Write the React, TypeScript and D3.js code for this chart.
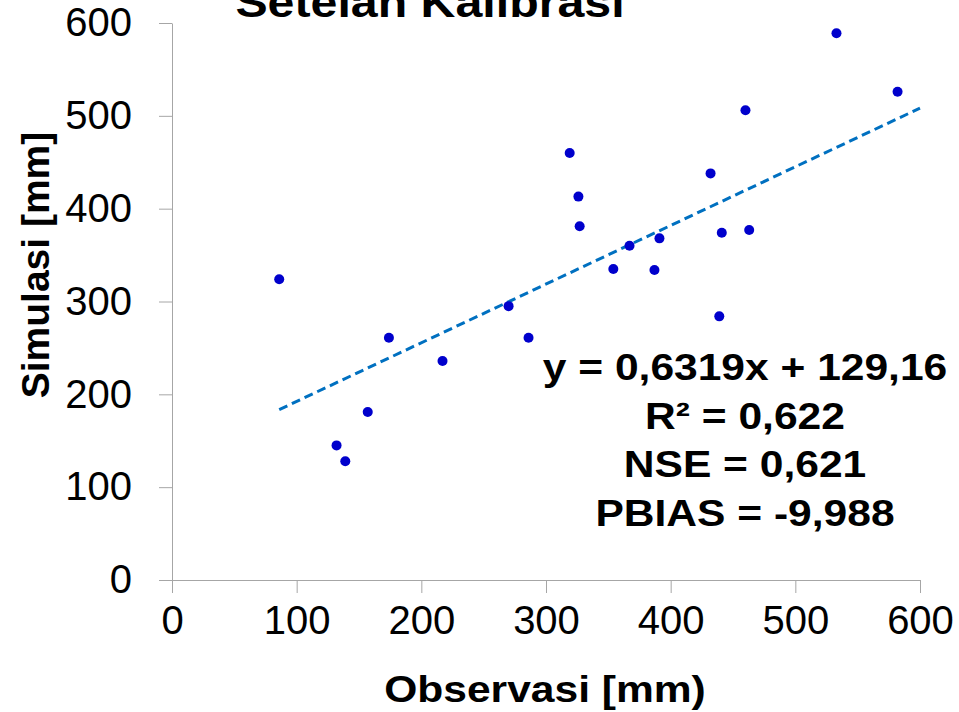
import React, { useEffect, useRef } from 'react';
import * as d3 from 'd3';

// Observed vs simulated (mm)
const observasi = [86, 132, 139, 157, 174, 217, 270, 286, 319, 326, 327, 354, 367, 387, 391, 432, 439, 441, 460, 463, 533, 582];
const simulasi = [324, 145, 128, 181, 261, 236, 295, 261, 460, 413, 381, 335, 360, 334, 368, 438, 284, 374, 506, 377, 589, 526];

const tickValues = [0, 100, 200, 300, 400, 500, 600];

// linear trend from the chart's label
const slope = 0.6319;
const intercept = 129.16;
const trendEnd = 600;

const statLines = ['y = 0,6319x + 129,16', 'R² = 0,622', 'NSE = 0,621', 'PBIAS = -9,988'];

const App = () => {
  const svgRef = useRef<SVGSVGElement>(null);

  useEffect(() => {
    const svg = d3.select(svgRef.current);
    svg.selectAll('*').remove();

    const font = 'Liberation Sans, Arial, sans-serif';
    const axisColor = '#a6a6a6';
    const stretch = 1.15; // bold text in the source is a little wide

    const x = d3.scaleLinear().domain([0, 600]).range([172, 920]);
    const y = d3.scaleLinear().domain([0, 600]).range([580, 23]);

    // title, clipped at the top like the source
    svg.append('text')
      .attr('transform', `translate(430,17) scale(${stretch},1)`)
      .attr('text-anchor', 'middle')
      .style('font-family', font)
      .style('font-weight', 'bold')
      .style('font-size', '42px')
      .text('Setelah Kalibrasi');

    // x axis
    const xAxis = svg.append('g')
      .attr('transform', `translate(0,${y(0)})`)
      .call(d3.axisBottom(x).tickValues(tickValues).tickSize(13).tickSizeOuter(0).tickPadding(13));
    xAxis.select('.domain').attr('stroke', axisColor);
    xAxis.selectAll('line').attr('stroke', axisColor);
    xAxis.selectAll('text')
      .style('font-family', font)
      .style('font-size', '40px')
      .attr('fill', '#000');

    // y axis
    const yAxis = svg.append('g')
      .attr('transform', `translate(${x(0)},0)`)
      .call(d3.axisLeft(y).tickValues(tickValues).tickSize(13).tickSizeOuter(0).tickPadding(27));
    yAxis.select('.domain').attr('stroke', axisColor);
    yAxis.selectAll('line').attr('stroke', axisColor);
    yAxis.selectAll('text')
      .style('font-family', font)
      .style('font-size', '40px')
      .attr('fill', '#000');

    // axis titles
    svg.append('text')
      .attr('transform', `translate(545,702) scale(${stretch},1)`)
      .attr('text-anchor', 'middle')
      .style('font-family', font)
      .style('font-weight', 'bold')
      .style('font-size', '37px')
      .text('Observasi [mm)');

    svg.append('text')
      .attr('transform', 'translate(49,265) rotate(-90)')
      .attr('text-anchor', 'middle')
      .style('font-family', font)
      .style('font-weight', 'bold')
      .style('font-size', '39px')
      .text('Simulasi [mm]');

    // trend line
    const x0 = d3.min(observasi) as number;
    const line = d3.line<number>()
      .x(d => x(d))
      .y(d => y(slope * d + intercept));
    svg.append('path')
      .datum([x0, trendEnd])
      .attr('d', line)
      .attr('fill', 'none')
      .attr('stroke', '#0070c0')
      .attr('stroke-width', 3)
      .attr('stroke-dasharray', '9,5');

    // points
    svg.append('g')
      .selectAll('circle')
      .data(observasi)
      .enter()
      .append('circle')
      .attr('cx', d => x(d))
      .attr('cy', (d, i) => y(simulasi[i]))
      .attr('r', 5)
      .attr('fill', '#0000cc');

    // stats text
    svg.append('g')
      .selectAll('text')
      .data(statLines)
      .enter()
      .append('text')
      .attr('transform', (d, i) => `translate(745,${380 + i * 48.5}) scale(${stretch},1)`)
      .attr('text-anchor', 'middle')
      .style('font-family', font)
      .style('font-weight', 'bold')
      .style('font-size', '37px')
      .text(d => d);
  }, []);

  return (
    <svg
      ref={svgRef}
      width={959}
      height={712}
      style={{ position: 'absolute', left: 0, top: 0, background: '#fff' }}
    />
  );
};

export default App;
